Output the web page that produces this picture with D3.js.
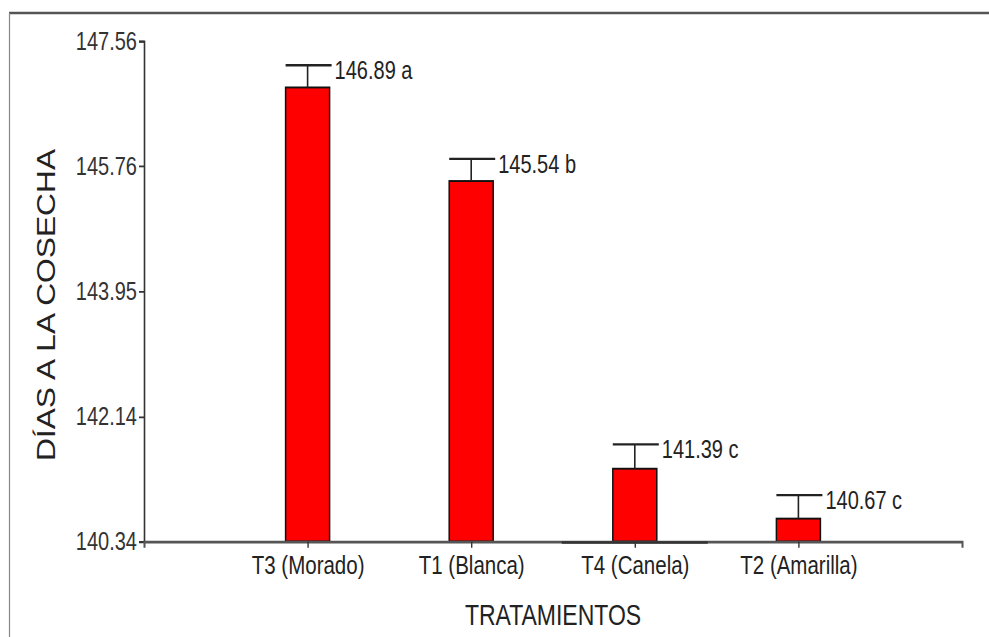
<!DOCTYPE html>
<html>
<head>
<meta charset="utf-8">
<script src="https://cdn.jsdelivr.net/npm/d3@7"></script>
<style>
  body { margin: 0; background: #fff; }
  svg text { font-family: "Liberation Sans", Arial, sans-serif; }
</style>
</head>
<body>
<div id="chart"></div>
<script>
var categories = ["T3 (Morado)", "T1 (Blanca)", "T4 (Canela)", "T2 (Amarilla)"];
var means = [146.89, 145.54, 141.39, 140.67];
var errors = [0.32, 0.32, 0.35, 0.34];
var letters = ["a", "b", "c", "c"];
var yTicks = [140.34, 142.14, 143.95, 145.76, 147.56];

var W = 989, H = 637;
// the original picture is stretched vertically, so draw in a squashed space
var k = 1.27;

var svg = d3.select("#chart").append("svg")
  .attr("width", W)
  .attr("height", H);

// frame
svg.append("line").attr("x1", 9).attr("x2", W).attr("y1", 13).attr("y2", 13)
  .attr("stroke", "#555").attr("stroke-width", 2.5);
svg.append("line").attr("x1", 9.5).attr("x2", 9.5).attr("y1", 13).attr("y2", H)
  .attr("stroke", "#7a8a99").attr("stroke-width", 1.2);

var g = svg.append("g").attr("transform", "scale(1," + k + ")");

var x = d3.scalePoint()
  .domain(categories)
  .range([144, 962])
  .padding(1);

var y = d3.scaleLinear()
  .domain([140.34, 147.56])
  .range([541.5 / k, 41 / k]);

var barW = 44;

// y axis
var yAxis = g.append("g")
  .attr("transform", "translate(144,0)")
  .call(d3.axisLeft(y).tickValues(yTicks).tickFormat(d3.format(".2f")).tickSize(5).tickPadding(2));
yAxis.select(".domain").attr("stroke", "#333").attr("stroke-width", 1.6);
yAxis.selectAll(".tick line").attr("stroke", "#333").attr("stroke-width", 1.4);
yAxis.selectAll(".tick text").attr("font-size", 20).attr("fill", "#333");

// bars
g.selectAll(".bar")
  .data(categories)
  .enter().append("rect")
  .attr("class", "bar")
  .attr("x", function(d) { return x(d) - barW / 2; })
  .attr("width", barW)
  .attr("y", function(d, i) { return y(means[i]); })
  .attr("height", function(d, i) { return y(140.34) - y(means[i]); })
  .attr("fill", "#ff0000")
  .attr("stroke", "#111")
  .attr("stroke-width", 1.5);

// error bars
g.selectAll(".err")
  .data(categories)
  .enter().append("line")
  .attr("x1", function(d) { return x(d); })
  .attr("x2", function(d) { return x(d); })
  .attr("y1", function(d, i) { return y(means[i]); })
  .attr("y2", function(d, i) { return y(means[i] + errors[i]); })
  .attr("stroke", "#222")
  .attr("stroke-width", 1.6);

g.selectAll(".cap")
  .data(categories)
  .enter().append("line")
  .attr("x1", function(d) { return x(d) - barW / 2; })
  .attr("x2", function(d) { return x(d) + barW / 2 + 2; })
  .attr("y1", function(d, i) { return y(means[i] + errors[i]); })
  .attr("y2", function(d, i) { return y(means[i] + errors[i]); })
  .attr("stroke", "#222")
  .attr("stroke-width", 1.8);

g.selectAll(".lbl")
  .data(categories)
  .enter().append("text")
  .attr("x", function(d) { return x(d) + barW / 2 + 5; })
  .attr("y", function(d, i) { return y(means[i] + errors[i]) + 14 / k; })
  .attr("font-size", 20)
  .attr("fill", "#222")
  .text(function(d, i) { return means[i].toFixed(2) + " " + letters[i]; });

// x axis
var xAxis = g.append("g")
  .attr("transform", "translate(0," + y(140.34) + ")")
  .call(d3.axisBottom(x).tickSizeInner(5).tickSizeOuter(5).tickPadding(6));
xAxis.select(".domain").attr("stroke", "#555").attr("stroke-width", 2);
xAxis.selectAll(".tick line").attr("stroke", "#333").attr("stroke-width", 1.4);
xAxis.selectAll(".tick text").attr("font-size", 20.5).attr("fill", "#222");

// darker stretch of the baseline under T4
g.append("line")
  .attr("x1", x("T4 (Canela)") - 73)
  .attr("x2", x("T4 (Canela)") + 73)
  .attr("y1", y(140.34) + 0.8)
  .attr("y2", y(140.34) + 0.8)
  .attr("stroke", "#333")
  .attr("stroke-width", 2);

// axis titles
g.append("text")
  .attr("x", 553)
  .attr("y", 625 / k)
  .attr("text-anchor", "middle")
  .attr("font-size", 23)
  .attr("fill", "#222")
  .text("TRATAMIENTOS");

g.append("text")
  .attr("transform", "translate(55," + (305 / k) + ") rotate(-90)")
  .attr("text-anchor", "middle")
  .attr("font-size", 25)
  .attr("fill", "#222")
  .text("DÍAS A LA COSECHA");
</script>
</body>
</html>
